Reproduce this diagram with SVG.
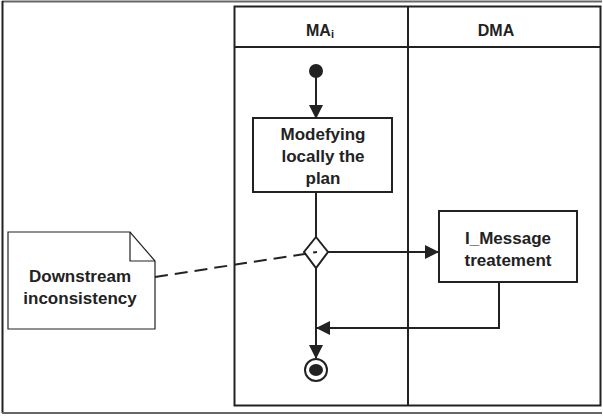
<svg xmlns="http://www.w3.org/2000/svg" width="603" height="419" viewBox="0 0 603 419">
<style>
.t{font-family:"Liberation Sans",Arial,sans-serif;font-weight:bold;font-size:17px;fill:#222;text-anchor:middle}
.h{font-size:16px}
.ln{fill:none;stroke:#222;stroke-width:2}
.box{fill:#fff;stroke:#222;stroke-width:2}
</style>
<defs>
<marker id="ah2" markerWidth="14" markerHeight="14" refX="13" refY="7" orient="auto" markerUnits="userSpaceOnUse" viewBox="0 0 14 14">
<path d="M0,0 L14,7 L0,14 Z" fill="#222"/>
</marker>
</defs>
<rect width="603" height="419" fill="#fff"/>
<g id="frame">
<line x1="2" y1="1.5" x2="602" y2="1.5" stroke="#666" stroke-width="2"/>
<line x1="2.5" y1="1" x2="2.5" y2="413" stroke="#222" stroke-width="2"/>
<line x1="2" y1="413" x2="602" y2="413" stroke="#666" stroke-width="2"/>
</g>
<g id="pool">
<rect x="234.5" y="6.5" width="366" height="399" class="box"/>
<line x1="234.5" y1="47" x2="600.5" y2="47" class="ln"/>
<line x1="408" y1="6.5" x2="408" y2="405.5" class="ln"/>
<text x="320" y="36" class="t h">MA<tspan font-size="11" dy="2">i</tspan></text>
<text x="496" y="36" class="t h">DMA</text>
</g>
<g id="connectors">
<line x1="316" y1="76" x2="316" y2="118" class="ln" marker-end="url(#ah2)"/>
<line x1="316" y1="192" x2="316" y2="237" class="ln"/>
<line x1="327" y1="252" x2="438" y2="252" class="ln" marker-end="url(#ah2)"/>
<polyline points="499,282 499,328 317,328" class="ln" marker-end="url(#ah2)"/>
<line x1="316" y1="268" x2="316" y2="358" class="ln" marker-end="url(#ah2)"/>
<line x1="155" y1="277" x2="317" y2="252" stroke="#222" stroke-width="2" stroke-dasharray="13,7"/>
</g>
<g id="start">
<circle cx="316" cy="71" r="7" fill="#222"/>
</g>
<g id="modify">
<rect x="253" y="118" width="139" height="74" class="box"/>
<text x="323" y="140" class="t">Modefying</text>
<text x="323" y="162" class="t">locally the</text>
<text x="323" y="184" class="t">plan</text>
</g>
<g id="decision">
<path d="M316,237 L328,252 L316,268 L304,252 Z" fill="none" stroke="#222" stroke-width="2"/>
</g>
<g id="message">
<rect x="439" y="211" width="138" height="71" class="box"/>
<text x="508" y="244" class="t">I_Message</text>
<text x="508" y="266" class="t">treatement</text>
</g>
<g id="end">
<circle cx="316" cy="370" r="11" fill="#fff" stroke="#222" stroke-width="2"/>
<ellipse cx="316" cy="370" rx="7" ry="6" fill="#222"/>
</g>
<g id="note">
<path d="M8,232 L130,232 L155,261 L155,329 L8,329 Z" fill="#fff" stroke="#222" stroke-width="1.2"/>
<path d="M130,232 L130,261 L155,261" fill="none" stroke="#222" stroke-width="1.2"/>
<text x="80" y="282" class="t">Downstream</text>
<text x="80" y="304" class="t">inconsistency</text>
</g>
</svg>
